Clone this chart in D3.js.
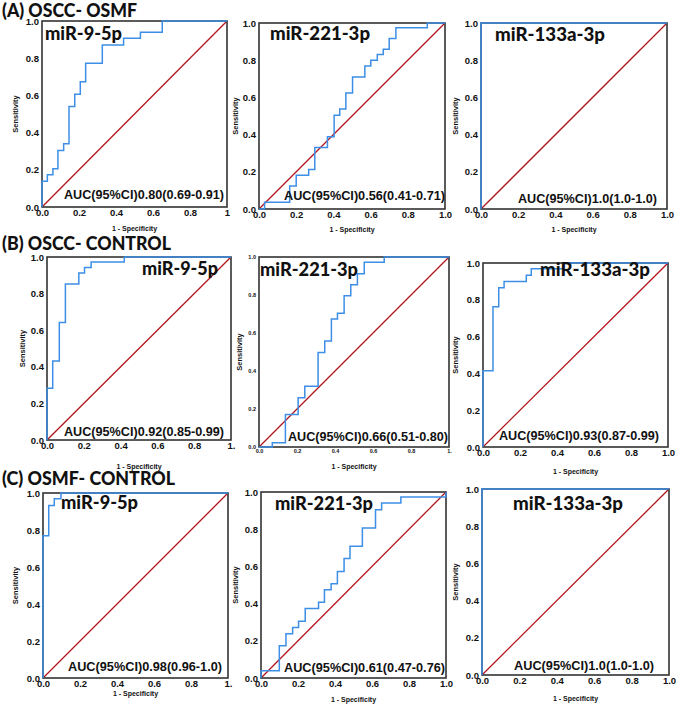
<!DOCTYPE html>
<html><head><meta charset="utf-8">
<script src="https://cdn.jsdelivr.net/npm/d3@7"></script>
<style>body{margin:0;background:#fff}svg{display:block}</style>
</head><body><svg id="c" width="676" height="709"></svg>
<script>
// ---------- data ----------
const groupTitles = ["(A) OSCC- OSMF", "(B) OSCC- CONTROL", "(C) OSMF- CONTROL"];
const markers = ["miR-9-5p", "miR-221-3p", "miR-133a-3p"];
const aucLabels = [
  "AUC(95%CI)0.80(0.69-0.91)", "AUC(95%CI)0.56(0.41-0.71)", "AUC(95%CI)1.0(1.0-1.0)",
  "AUC(95%CI)0.92(0.85-0.99)", "AUC(95%CI)0.66(0.51-0.80)", "AUC(95%CI)0.93(0.87-0.99)",
  "AUC(95%CI)0.98(0.96-1.0)", "AUC(95%CI)0.61(0.47-0.76)", "AUC(95%CI)1.0(1.0-1.0)"
];
const tickValues = [0, 0.2, 0.4, 0.6, 0.8, 1];
const yTickLabels = ["0.0", "0.2", "0.4", "0.6", "0.8", "1.0"];
const xTickLabels = ["0.0", "0.2", "0.4", "0.6", "0.8", "1.0"];
const lastXTickLabels = ["1", "1.0", "1.0", "1.", "1.", "1.0", "1.", "1.0", "1.0"];
const xAxisTitle = "1 - Specificity";
const yAxisTitle = "Sensitivity";
const refLine = [[0, 0], [1, 1]];

// ROC step points (1 - specificity, sensitivity)
const fprA1 = [0, 0, 0.029, 0.059, 0.086, 0.117, 0.146, 0.177, 0.207, 0.236, 0.326, 0.441, 0.532, 0.65, 1];
const tprA1 = [0, 0.138, 0.174, 0.206, 0.304, 0.34, 0.54, 0.606, 0.674, 0.773, 0.871, 0.907, 0.94, 1, 1];
const fprA2 = [0, 0.03, 0.165, 0.2, 0.267, 0.3, 0.368, 0.404, 0.434, 0.467, 0.503, 0.569, 0.601, 0.636, 0.668, 0.7, 0.736, 0.905, 1];
const tprA2 = [0, 0.036, 0.123, 0.182, 0.213, 0.331, 0.388, 0.504, 0.537, 0.624, 0.71, 0.769, 0.8, 0.83, 0.859, 0.916, 0.975, 1, 1];
const fprA3 = [0, 0, 1];
const tprA3 = [0, 1, 1];
const fprB1 = [0, 0, 0.031, 0.067, 0.1, 0.173, 0.204, 0.24, 0.42, 1];
const tprB1 = [0, 0.283, 0.432, 0.642, 0.852, 0.912, 0.943, 0.973, 1, 1];
const fprB2 = [0, 0.07, 0.139, 0.206, 0.241, 0.311, 0.346, 0.381, 0.413, 0.448, 0.483, 0.518, 0.554, 0.659, 1];
const tprB2 = [0, 0.023, 0.171, 0.259, 0.32, 0.498, 0.558, 0.674, 0.704, 0.796, 0.854, 0.912, 0.972, 1, 1];
const fprB3 = [0, 0, 0.054, 0.085, 0.114, 0.234, 0.261, 0.44, 1];
const tprB3 = [0, 0.415, 0.762, 0.866, 0.9, 0.933, 0.969, 1, 1];
const fprC1 = [0, 0, 0.031, 0.061, 0.097, 1];
const tprC1 = [0, 0.769, 0.933, 0.969, 1, 1];
const fprC2 = [0, 0, 0.099, 0.135, 0.171, 0.203, 0.239, 0.311, 0.343, 0.379, 0.413, 0.449, 0.481, 0.548, 0.619, 0.652, 0.756, 1];
const tprC2 = [0, 0.039, 0.174, 0.238, 0.272, 0.305, 0.373, 0.407, 0.475, 0.507, 0.573, 0.642, 0.708, 0.806, 0.905, 0.941, 0.973, 1];
const fprC3 = [0, 0, 1];
const tprC3 = [0, 1, 1];

const rocFpr = [fprA1, fprA2, fprA3, fprB1, fprB2, fprB3, fprC1, fprC2, fprC3];
const rocTpr = [tprA1, tprA2, tprA3, tprB1, tprB2, tprB3, tprC1, tprC2, tprC3];

// ---------- layout (positions / styles) ----------
const layout = [
  {x0: 42,  x1: 227, y0: 21,  y1: 207, tf: 9.5, mx: 45,  my: 40,  mw: 77,  ax: 64,  ay: 199, aw: 160, sx: 15.5, spy: 231},
  {x0: 259, x1: 445, y0: 23,  y1: 209, tf: 9.5, mx: 270, my: 40,  mw: 100, ax: 284, ay: 200, aw: 161, sx: 235, spy: 232},
  {x0: 481, x1: 667, y0: 23,  y1: 209, tf: 9.5, mx: 495, my: 41,  mw: 110, ax: 518, ay: 203, aw: 139, sx: 455, spy: 232},
  {x0: 47,  x1: 231, y0: 257, y1: 440, tf: 9.5, mx: 142, my: 275, mw: 76,  ax: 64,  ay: 436, aw: 160, sx: 22,  spy: 469},
  {x0: 259, x1: 449, y0: 257, y1: 447, tf: 5.5, mx: 260, my: 276, mw: 98,  ax: 288, ay: 441, aw: 160, sx: 239, spy: 469},
  {x0: 483, x1: 668, y0: 263, y1: 447, tf: 9.5, mx: 540, my: 276, mw: 110, ax: 499, ay: 440, aw: 160, sx: 455, spy: 474},
  {x0: 43,  x1: 228, y0: 493, y1: 678, tf: 9.5, mx: 61,  my: 509, mw: 77,  ax: 68,  ay: 671, aw: 154, sx: 15.5, spy: 696},
  {x0: 261, x1: 446, y0: 492, y1: 678, tf: 9.5, mx: 275, my: 510, mw: 98,  ax: 284, ay: 672, aw: 161, sx: 235, spy: 702},
  {x0: 482, x1: 669, y0: 489, y1: 675, tf: 9.5, mx: 513, my: 510, mw: 110, ax: 514, ay: 670, aw: 140, sx: 455, spy: 701}
];
const titleLayout = [
  {x: 2, y: 17, w: 135},
  {x: 2, y: 250, w: 169},
  {x: 2, y: 485, w: 173}
];
const BLUE = "#3d8ee6", RED = "#b2161c", FRAME = "#333";
const tickFont = "'Liberation Sans', Arial, sans-serif";
const labelFont = "Lato, 'Open Sans', sans-serif";

const svg = d3.select("#c");
svg.append("rect").attr("width", 676).attr("height", 709).attr("fill", "#fff");

layout.forEach((L, i) => {
  const x = d3.scaleLinear().domain([0, 1]).range([L.x0, L.x1]);
  const y = d3.scaleLinear().domain([0, 1]).range([L.y1, L.y0]);
  const g = svg.append("g");

  g.append("path")
    .attr("d", d3.line().x(d => x(d[0])).y(d => y(d[1]))(refLine))
    .attr("fill", "none").attr("stroke", RED).attr("stroke-width", 1.3);

  g.append("rect")
    .attr("x", x(0)).attr("y", y(1))
    .attr("width", x(1) - x(0)).attr("height", y(0) - y(1))
    .attr("fill", "none").attr("stroke", FRAME).attr("stroke-width", 1.6);

  const pts = rocFpr[i].map((f, k) => [f, rocTpr[i][k]]);
  g.append("path")
    .attr("d", d3.line().x(d => x(d[0])).y(d => y(d[1])).curve(d3.curveStepAfter)(pts))
    .attr("fill", "none").attr("stroke", BLUE).attr("stroke-width", 1.5);

  const xl = xTickLabels.slice(); xl[xl.length - 1] = lastXTickLabels[i];
  const xa = g.append("g").attr("transform", `translate(0,${L.y1})`)
    .call(d3.axisBottom(x).tickValues(tickValues).tickSize(0).tickPadding(2)
      .tickFormat((d, k) => xl[k]));
  const ya = g.append("g").attr("transform", `translate(${L.x0},0)`)
    .call(d3.axisLeft(y).tickValues(tickValues).tickSize(0).tickPadding(3)
      .tickFormat((d, k) => yTickLabels[k]));
  [xa, ya].forEach(a => {
    a.select(".domain").remove();
    a.selectAll("text").attr("font-family", tickFont).attr("font-weight", "bold")
      .attr("font-size", L.tf).attr("fill", "#111");
  });

  g.append("text").text(xAxisTitle)
    .attr("x", (L.x0 + L.x1) / 2).attr("y", L.spy).attr("text-anchor", "middle")
    .attr("font-family", tickFont).attr("font-weight", "bold").attr("font-size", 7).attr("fill", "#111");
  g.append("text").text(yAxisTitle)
    .attr("transform", `translate(${L.sx},${(L.y0 + L.y1) / 2}) rotate(-90)`)
    .attr("text-anchor", "middle").attr("dy", "0.35em")
    .attr("font-family", tickFont).attr("font-weight", "bold").attr("font-size", 7.5).attr("fill", "#111");

  g.append("text").text(markers[i % 3])
    .attr("x", L.mx).attr("y", L.my)
    .attr("textLength", L.mw).attr("lengthAdjust", "spacingAndGlyphs")
    .attr("font-family", labelFont).attr("font-weight", 900).attr("font-size", 18).attr("fill", "#111");

  g.append("text").text(aucLabels[i])
    .attr("x", L.ax).attr("y", L.ay)
    .attr("textLength", L.aw).attr("lengthAdjust", "spacingAndGlyphs")
    .attr("font-family", tickFont).attr("font-weight", "bold").attr("font-size", 12.5).attr("fill", "#111");
});

groupTitles.forEach((t, j) => {
  const T = titleLayout[j];
  svg.append("text").text(t)
    .attr("x", T.x).attr("y", T.y)
    .attr("textLength", T.w).attr("lengthAdjust", "spacingAndGlyphs")
    .attr("font-family", labelFont).attr("font-weight", 900).attr("font-size", 19).attr("fill", "#111");
});
</script>
</body></html>
